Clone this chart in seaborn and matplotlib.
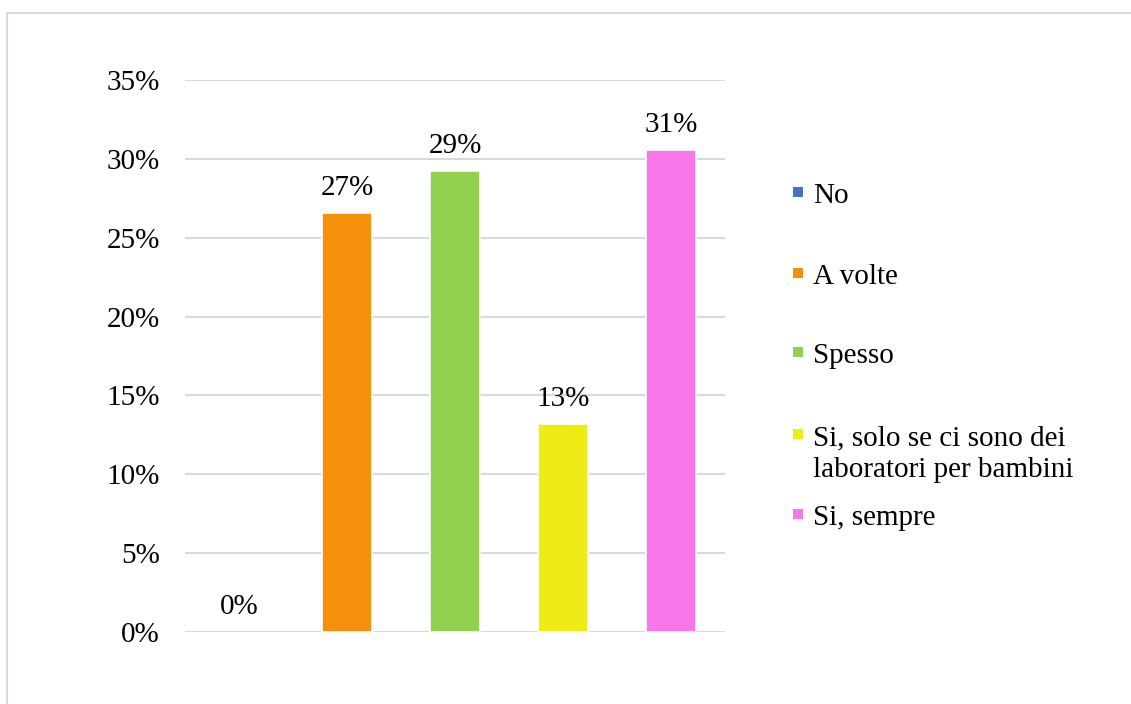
import matplotlib
matplotlib.use("Agg")
import matplotlib.pyplot as plt
from matplotlib.lines import Line2D
from matplotlib.patches import Rectangle
from matplotlib.ticker import PercentFormatter
import seaborn as sns
import pandas as pd

# Survey answers and their shares
categories = ["No", "A volte", "Spesso",
              "Si, solo se ci sono dei\nlaboratori per bambini", "Si, sempre"]
shares = [0.0, 0.2657, 0.2923, 0.1319, 0.3056]
value_labels = ["0%", "27%", "29%", "13%", "31%"]
colors = ["#4472C4", "#F5900D", "#92D150", "#EFEB17", "#F877E8"]
y_ticks = [0.0, 0.05, 0.10, 0.15, 0.20, 0.25, 0.30, 0.35]

sns.set_theme(style="white")
plt.rcParams["font.family"] = ["Liberation Serif", "DejaVu Serif"]

W, H = 1131, 704
fig = plt.figure(figsize=(W / 100, H / 100), dpi=100)
ax = fig.add_axes([185 / W, 1 - 632 / H, (725 - 185) / W, (632 - 80) / H])

df = pd.DataFrame({"cat": categories, "share": shares})
sns.barplot(data=df, x="cat", y="share", hue="cat", palette=colors,
            saturation=1, width=0.465, legend=False, ax=ax,
            edgecolor="white", linewidth=1.2, zorder=3)
# Empty bars get no white outline so the baseline stays unbroken
for p in ax.patches:
    if p.get_height() == 0:
        p.set_linewidth(0)

ax.set_ylim(0, 0.35)
ax.set_yticks(y_ticks)
ax.yaxis.set_major_formatter(PercentFormatter(1.0, decimals=0))
ax.set_xticks([])
ax.set_xlabel("")
ax.set_ylabel("")
ax.tick_params(axis="y", labelsize=21, length=0, pad=18, labelcolor="#000000")
ax.grid(axis="y", color="#D9D9D9", linewidth=1.5, zorder=0)
ax.set_axisbelow(True)
for s in ax.spines.values():
    s.set_visible(False)

# Value labels above each bar
for i, (v, lab) in enumerate(zip(shares, value_labels)):
    ax.annotate(lab, (i, v), xytext=(0, 13), textcoords="offset points",
                ha="center", va="baseline", fontsize=21, color="#000000")

# Legend drawn as colored squares with labels
baselines = [203, 284, 363, 445, 525]
line_step = 32
for lab, col, yb in zip(categories, colors, baselines):
    fig.add_artist(Rectangle((793 / W, 1 - (yb - 6) / H), 10 / W, 10 / H,
                             transform=fig.transFigure, color=col,
                             linewidth=0))
    for k, line in enumerate(lab.split("\n")):
        fig.text(813 / W, 1 - (yb + k * line_step) / H, line, fontsize=21,
                 ha="left", va="baseline", color="#000000")

# Outer frame (top and left edges)
fig.add_artist(Line2D([7 / W, 1.01], [1 - 13 / H, 1 - 13 / H],
                      transform=fig.transFigure, color="#D9D9D9", linewidth=1.5))
fig.add_artist(Line2D([7 / W, 7 / W], [1 - 13 / H, -0.01],
                      transform=fig.transFigure, color="#D9D9D9", linewidth=1.5))

fig.savefig("out.png", dpi=100, facecolor="white")
